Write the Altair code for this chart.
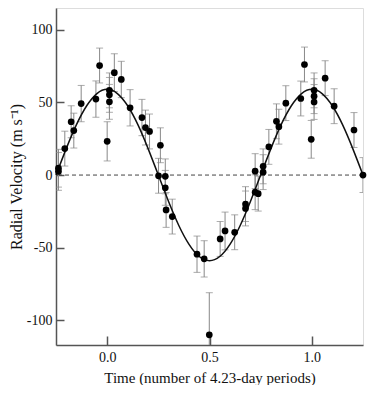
import altair as alt
import pandas as pd

# Observations (phase, radial velocity, 1-sigma error)
phase = [-0.238, -0.238, -0.207, -0.176, -0.163, -0.127, -0.055, -0.037, 0.0,
         0.011, 0.011, 0.011, 0.035, 0.069, 0.112, 0.170, 0.187, 0.207,
         0.260, 0.251, 0.284, 0.284, 0.288, 0.318,
         0.439, 0.474, 0.499, 0.552, 0.576, 0.623, 0.676, 0.676,
         0.723, 0.738, 0.723, 0.762, 0.762, 0.790, 0.827, 0.839, 0.873,
         0.946, 0.964, 0.997, 1.011, 1.011, 1.011, 1.065, 1.109, 1.206, 1.25]
velocity = [2.5, 4.7, 18.2, 36.7, 30.6, 49.2, 52.3, 75.4, 23.2,
            58.3, 55.2, 50.4, 70.5, 65.8, 46.3, 39.6, 32.7, 30.0,
            20.5, -0.5, -0.9, -8.8, -24.0, -28.6,
            -54.5, -57.7, -110.0, -44.0, -38.5, -39.4, -23.0, -20.0,
            -11.8, -12.8, 2.7, 6.0, 2.0, 19.4, 37.0, 33.3, 49.5,
            52.7, 76.1, 24.6, 58.3, 54.3, 50.3, 66.7, 47.4, 31.0, 0.0]
error = [13, 13, 12, 11, 12, 12.5, 12.5, 12, 13.5,
         12, 12, 12, 13, 12.5, 12.5, 12.5, 12, 12,
         12, 12, 12, 12, 12, 12,
         12.5, 12.5, 29, 12, 13, 12, 12, 12,
         12, 12, 12, 12, 12, 12, 12, 12, 12,
         12, 12, 13, 12, 12, 12, 12, 12, 12, 12]

# Fitted orbit curve at 0.05-period steps
curve_phase = [-0.25, -0.2, -0.15, -0.1, -0.05, 0.0, 0.05, 0.1, 0.15, 0.2, 0.25,
               0.3, 0.35, 0.4, 0.45, 0.5, 0.55, 0.6, 0.65, 0.7, 0.75,
               0.8, 0.85, 0.9, 0.95, 1.0, 1.05, 1.1, 1.15, 1.2, 1.25]
curve_velocity = [0, 18.2, 34.7, 47.7, 56.1, 59, 56.1, 47.7, 34.7, 18.2, 0,
                  -18.2, -34.7, -47.7, -56.1, -59, -56.1, -47.7, -34.7, -18.2, 0,
                  18.2, 34.7, 47.7, 56.1, 59, 56.1, 47.7, 34.7, 18.2, 0]

zero_level = [0]
x_ticks = [0.0, 0.5, 1.0]
y_ticks = [-100, -50, 0, 50, 100]

obs = pd.DataFrame({"phase": phase, "v": velocity, "err": error})
obs["lo"] = obs["v"] - obs["err"]
obs["hi"] = obs["v"] + obs["err"]
curve = pd.DataFrame({"phase": curve_phase, "v": curve_velocity})
zero = pd.DataFrame({"z": zero_level})

FONT = "Liberation Serif"
xscale = alt.Scale(domain=[-0.25, 1.25], nice=False, zero=False)
yscale = alt.Scale(domain=[-117, 115], nice=False, zero=False)

xaxis = alt.Axis(values=x_ticks, labelExpr="format(datum.value, '.1f')",
                 title="Time (number of 4.23-day periods)",
                 tickSize=alt.ExprRef("-9"), labelPadding=14, titlePadding=6,
                 grid=False, domainColor="#555", domainWidth=1.5, tickColor="#555",
                 tickWidth=1.5, labelFont=FONT, labelFontSize=14, labelColor="#111",
                 titleFont=FONT, titleFontSize=15, titleFontWeight="normal", titleColor="#111")
yaxis = alt.Axis(values=y_ticks, labelExpr="'' + datum.value", title="Radial Velocity (m s⁻¹)",
                 tickSize=alt.ExprRef("-8"), labelPadding=12, titlePadding=2,
                 grid=False, domainColor="#555", domainWidth=1.5, tickColor="#555",
                 tickWidth=1.5, labelFont=FONT, labelFontSize=14, labelColor="#111",
                 titleFont=FONT, titleFontSize=16, titleFontWeight="normal", titleColor="#111")

base = alt.Chart(obs)

zero_line = alt.Chart(zero).mark_rule(color="#444", strokeWidth=1, strokeDash=[4, 3]).encode(
    y=alt.Y("z:Q", scale=yscale, axis=yaxis)
)

bars = base.mark_rule(color="#888", strokeWidth=1, clip=True).encode(
    x=alt.X("phase:Q", scale=xscale, axis=xaxis),
    y=alt.Y("lo:Q", scale=yscale, axis=yaxis),
    y2="hi:Q",
)
caps_lo = base.mark_tick(color="#888", orient="horizontal", size=7, thickness=1, clip=True).encode(
    x=alt.X("phase:Q", scale=xscale, axis=xaxis),
    y=alt.Y("lo:Q", scale=yscale, axis=yaxis),
)
caps_hi = base.mark_tick(color="#888", orient="horizontal", size=7, thickness=1, clip=True).encode(
    x=alt.X("phase:Q", scale=xscale, axis=xaxis),
    y=alt.Y("hi:Q", scale=yscale, axis=yaxis),
)

fit = alt.Chart(curve).mark_line(color="#111", strokeWidth=1.5, interpolate="natural").encode(
    x=alt.X("phase:Q", scale=xscale, axis=xaxis),
    y=alt.Y("v:Q", scale=yscale, axis=yaxis),
)

points = base.mark_circle(color="#000", opacity=1, size=45).encode(
    x=alt.X("phase:Q", scale=xscale, axis=xaxis),
    y=alt.Y("v:Q", scale=yscale, axis=yaxis),
)

chart = alt.layer(zero_line, bars, caps_lo, caps_hi, fit, points).properties(
    width=307, height=337, padding=0
).configure_view(
    stroke="#666", strokeWidth=1.5
).configure(background="white")

chart.save("out.html", embed_options={"renderer": "svg", "actions": False})
